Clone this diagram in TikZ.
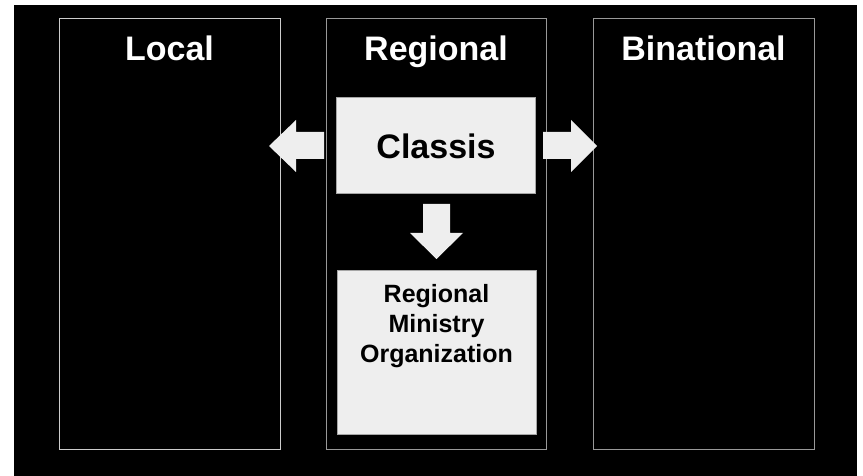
\documentclass[tikz,border=0pt]{standalone}
\usepackage{fontspec}
\setmainfont{Liberation Sans}
\begin{document}
\begin{tikzpicture}[x=1pt,y=-1pt,
  panel/.style={draw=#1, line width=1pt},
  boxfill/.style={fill=boxc, draw=gray!70, line width=1pt},
  arr/.style={fill=boxc, draw=none},
  title/.style={text=white, font=\fontsize{34}{40}\selectfont\bfseries, anchor=base},
  rmotext/.style={font=\fontsize{25}{30}\selectfont\bfseries, anchor=base},
]
\definecolor{boxc}{HTML}{EEEEEE}
\useasboundingbox (0,0) rectangle (863,476);
\fill[white] (0,0) rectangle (863,476);
\fill[black] (14,5) rectangle (857,476);
% panels
\draw[panel=gray!40] (59.5,19) rectangle (280,449);
\draw[panel=gray!80] (326,19) rectangle (546,449);
\draw[panel=gray!80] (593.5,19) rectangle (814,449);
\node[title] (tlocal) at (169.5,61) {Local};
\node[title] (tregional) at (436,61) {Regional};
\node[title] (tbinational) at (703.5,61) {Binational};
% boxes
\draw[boxfill] (336.5,98) rectangle (535,194);
\node[font=\fontsize{34}{40}\selectfont\bfseries, anchor=base] (classis) at (436,159) {Classis};
\draw[boxfill] (337,270) rectangle (536,434);
\node[rmotext] (rmo1) at (436.5,302) {Regional};
\node[rmotext] (rmo2) at (436.5,332) {Ministry};
\node[rmotext] (rmo3) at (436.5,362) {Organization};
% arrows
\fill[arr] (324,132) -- (296,132) -- (296,120) -- (269,146) -- (296,172) -- (296,159) -- (324,159) -- cycle;
\fill[arr] (543,132) -- (571,132) -- (571,120) -- (597,146) -- (571,172) -- (571,159) -- (543,159) -- cycle;
\fill[arr] (423,204) -- (450,204) -- (450,233) -- (463,233) -- (436.5,259) -- (410,233) -- (423,233) -- cycle;
\end{tikzpicture}
\end{document}
